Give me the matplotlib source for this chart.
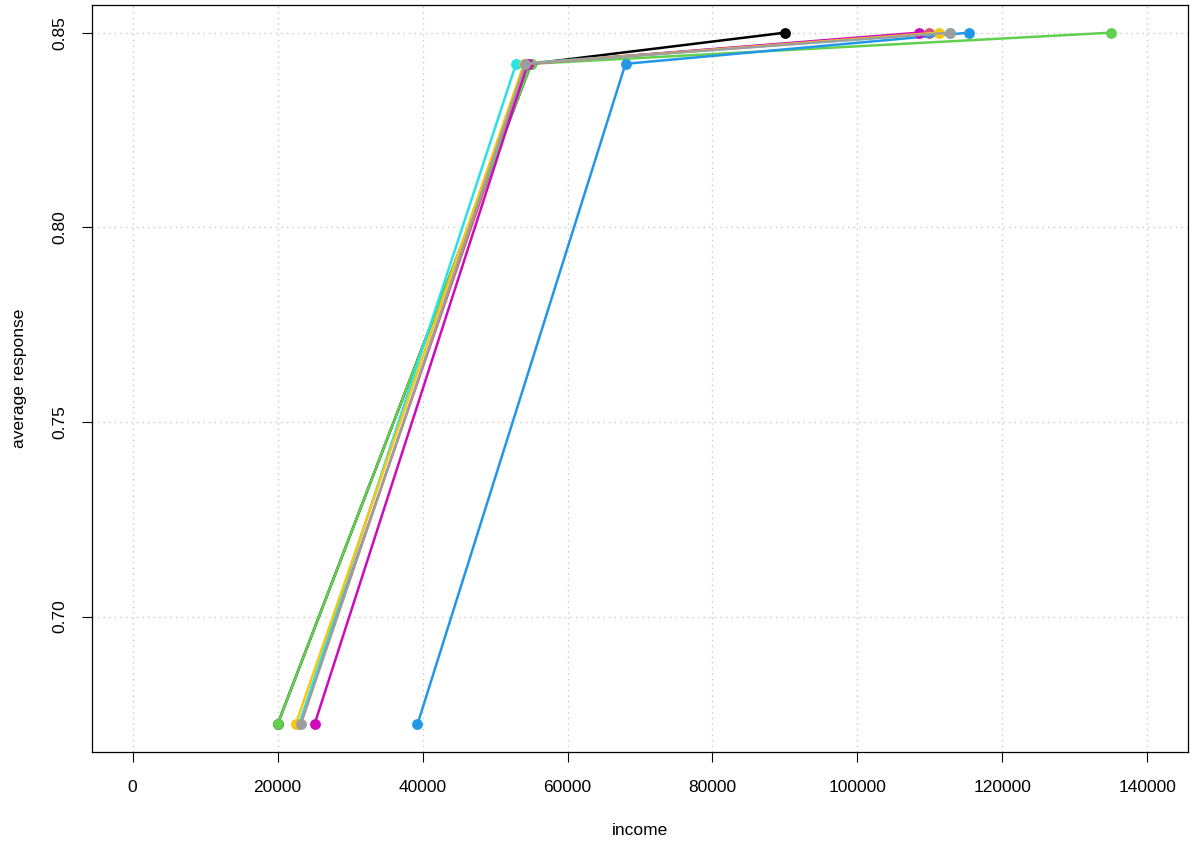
import matplotlib
matplotlib.use("Agg")
import matplotlib.pyplot as plt

# average response at each level (same for every series)
response = [0.6723, 0.8420, 0.85]

# income per series
income_black = [20000, 55000, 90000]
income_red = [23000, 54500, 109900]
income_green = [20000, 55000, 135000]
income_blue = [39300, 68000, 115400]
income_cyan = [23000, 52900, 112800]
income_magenta = [25100, 54500, 108500]
income_yellow = [22500, 54000, 111200]
income_gray = [23200, 54200, 112800]

series = [
    (income_black, "black"),
    (income_red, "#DF536B"),
    (income_green, "#61D04F"),
    (income_blue, "#2297E6"),
    (income_cyan, "#28E2E5"),
    (income_magenta, "#CD0BBC"),
    (income_yellow, "#F5C710"),
    (income_gray, "#9E9E9E"),
]

x_ticks = [0, 20000, 40000, 60000, 80000, 100000, 120000, 140000]
y_ticks = [0.70, 0.75, 0.80, 0.85]

plt.rcParams['font.family'] = ['Liberation Sans', 'DejaVu Sans']

W, H = 1194, 846
fig = plt.figure(figsize=(W / 100, H / 100), dpi=100)
ax = fig.add_axes([92 / W, (H - 752) / H, (1188 - 92) / W, (752 - 5) / H])

for xs, col in series:
    ax.plot(xs, response, color=col, linewidth=1.8, marker="o",
            markersize=7.8, markeredgewidth=0, zorder=3)

# R style 4% padding around data range
xr = (0, 140000)
yr = (min(response), max(response))
dx = (xr[1] - xr[0]) * 0.04
dy = (yr[1] - yr[0]) * 0.04
ax.set_xlim(xr[0] - dx, xr[1] + dx)
ax.set_ylim(yr[0] - dy, yr[1] + dy)

ax.set_xticks(x_ticks)
ax.set_xticklabels([str(t) for t in x_ticks])
ax.set_yticks(y_ticks)
ax.set_yticklabels(["%.2f" % t for t in y_ticks], rotation=90, va="center")

ax.grid(True, color="#C8C8C8", linestyle=(0, (1, 3)), linewidth=1.0)
ax.set_axisbelow(True)

ax.tick_params(direction="out", length=7, width=0.8, labelsize=12.5, pad=13)
ax.tick_params(axis="y", pad=11)
for s in ax.spines.values():
    s.set_linewidth(0.9)

ax.set_xlabel("income", fontsize=12.5, labelpad=20)
ax.set_ylabel("average response", fontsize=12.5, labelpad=18)

fig.savefig("out.png", dpi=100)
